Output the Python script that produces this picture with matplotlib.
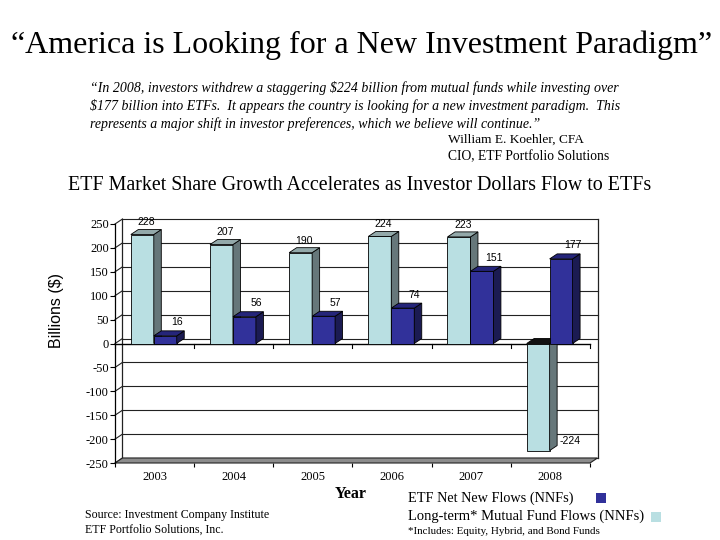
import matplotlib
matplotlib.use("Agg")
import matplotlib.pyplot as plt
from matplotlib.patches import Polygon, Rectangle

# ---- data ----
years = ["2003", "2004", "2005", "2006", "2007", "2008"]
mutual_fund_flows = [228, 207, 190, 224, 223, -224]   # light bars
etf_flows = [16, 56, 57, 74, 151, 177]                # dark bars
yticks = [-250, -200, -150, -100, -50, 0, 50, 100, 150, 200, 250]

SERIF = "Liberation Serif"
SANS = "Liberation Sans"

LIGHT_FACE, LIGHT_TOP, LIGHT_SIDE = "#b9dfe2", "#93a9aa", "#66777a"
DARK_FACE, DARK_TOP, DARK_SIDE = "#31319a", "#25257a", "#1b1b52"

fig = plt.figure(figsize=(7.2, 5.4), dpi=100)
W, H = 720, 540

def fx(px):
    return px / W

def fy(py):
    return 1 - py / H

# axes = front plane
ax = fig.add_axes([fx(115), fy(463), 475 / W, 239 / H])
n = len(years)
ax.set_xlim(-0.5, n - 0.5)
ax.set_ylim(-250, 250)
ax.patch.set_visible(False)
for s in ["top", "right", "bottom"]:
    ax.spines[s].set_visible(False)
ax.spines["left"].set_linewidth(0.9)

# depth offsets in data units
DX = 7.5 / (475 / n)
DY = 5.0 / (239 / 500)

x0f, x1f = -0.5, n - 0.5
# back wall gridlines + connectors
for t in yticks:
    ax.plot([x0f + DX, x1f + DX], [t + DY, t + DY], color="#222222", lw=0.8,
            zorder=1, clip_on=False)
    ax.plot([x0f, x0f + DX], [t, t + DY], color="#222222", lw=0.8,
            zorder=1, clip_on=False)
for xb in (x0f + DX, x1f + DX):
    ax.plot([xb, xb], [-250 + DY, 250 + DY], color="#222222", lw=0.9,
            zorder=1, clip_on=False)

# floor
floor = Polygon([(x0f, -250), (x1f, -250), (x1f + DX, -250 + DY), (x0f + DX, -250 + DY)],
                closed=True, facecolor="#8c8c8c", edgecolor="#222222", lw=0.8,
                zorder=2, clip_on=False)
ax.add_patch(floor)

# front zero line with category ticks
ax.plot([x0f, x1f], [0, 0], color="black", lw=1.0, zorder=2, clip_on=False)
for i in range(n + 1):
    xb = -0.5 + i
    ax.plot([xb, xb], [0, -9], color="black", lw=0.8, zorder=2, clip_on=False)

BW = 0.29
light_x = [i - 0.30 for i in range(n)]
dark_x = [i - 0.01 for i in range(n)]

def depth(xs, vals, top_c, side_c, z):
    for x0, v in zip(xs, vals):
        x1 = x0 + BW
        if v >= 0:
            top = [(x0, v), (x1, v), (x1 + DX, v + DY), (x0 + DX, v + DY)]
            side = [(x1, 0), (x1 + DX, DY), (x1 + DX, v + DY), (x1, v)]
            tc = top_c
        else:
            top = [(x0, 0), (x1, 0), (x1 + DX, DY), (x0 + DX, DY)]
            side = [(x1, v), (x1 + DX, v + DY), (x1 + DX, DY), (x1, 0)]
            tc = "#111111"
        ax.add_patch(Polygon(side, closed=True, facecolor=side_c, edgecolor="black",
                             lw=0.6, zorder=z, clip_on=False))
        ax.add_patch(Polygon(top, closed=True, facecolor=tc, edgecolor="black",
                             lw=0.6, zorder=z, clip_on=False))

ax.bar(light_x, mutual_fund_flows, width=BW, align="edge", color=LIGHT_FACE,
       edgecolor="black", linewidth=0.6, zorder=3)
depth(light_x, mutual_fund_flows, LIGHT_TOP, LIGHT_SIDE, 3)
ax.bar(dark_x, etf_flows, width=BW, align="edge", color=DARK_FACE,
       edgecolor="black", linewidth=0.6, zorder=4)
depth(dark_x, etf_flows, DARK_TOP, DARK_SIDE, 4)

# data labels
for x0, v in zip(light_x, mutual_fund_flows):
    if v >= 0:
        ax.annotate(f"{v}", (x0 + BW / 2 + DX * 0.5, v + DY), xytext=(0, 1.5),
                    textcoords="offset points", ha="center", va="bottom",
                    fontsize=7.5, family=SANS, zorder=6, annotation_clip=False)
    else:
        ax.annotate(f"{v}", (x0 + BW + DX, v), xytext=(2, 3),
                    textcoords="offset points", ha="left", va="bottom",
                    fontsize=7.5, family=SANS, zorder=6, annotation_clip=False)
for x0, v in zip(dark_x, etf_flows):
    ax.annotate(f"{v}", (x0 + BW / 2 + DX, v + DY), xytext=(3, 2.5),
                textcoords="offset points", ha="center", va="bottom",
                fontsize=7.5, family=SANS, zorder=6, annotation_clip=False)

# ticks
ax.set_yticks(yticks)
ax.set_yticklabels([str(t) for t in yticks], family=SERIF, fontsize=9)
ax.tick_params(axis="y", direction="out", length=3.5, width=0.8, pad=1)
ax.set_xticks(range(n))
ax.set_xticklabels(years, family=SERIF, fontsize=9)
ax.set_xticks([i - 0.5 for i in range(n + 1)], minor=True)
ax.tick_params(axis="x", which="major", length=0, pad=6)
ax.tick_params(axis="x", which="minor", direction="out", length=3, width=0.8)

# axis titles
fig.text(fx(57), fy(310), "Billions ($)", rotation=90, ha="center", va="center",
         family=SANS, fontsize=11.5)
fig.text(fx(351), fy(494), "Year", ha="center", va="center", family=SERIF,
         fontsize=11.5, fontweight="bold")

# titles and text
fig.text(fx(362), fy(45), "\u201cAmerica is Looking for a New Investment Paradigm\u201d",
         ha="center", va="center", family=SERIF, fontsize=23)
quote = [
    "\u201cIn 2008, investors withdrew a staggering $224 billion from mutual funds while investing over",
    "$177 billion into ETFs.  It appears the country is looking for a new investment paradigm.  This",
    "represents a major shift in investor preferences, which we believe will continue.\u201d",
]
for k, line in enumerate(quote):
    fig.text(fx(90), fy(88 + 18 * k), line, ha="left", va="center", family=SERIF,
             style="italic", fontsize=10)
fig.text(fx(448), fy(140), "William E. Koehler, CFA", ha="left", va="center",
         family=SERIF, fontsize=9.6)
fig.text(fx(448), fy(157), "CIO, ETF Portfolio Solutions", ha="left", va="center",
         family=SERIF, fontsize=9.8)
fig.text(fx(360), fy(186), "ETF Market Share Growth Accelerates as Investor Dollars Flow to ETFs",
         ha="center", va="center", family=SERIF, fontsize=14.4)

fig.text(fx(85), fy(515), "Source: Investment Company Institute", ha="left", va="center",
         family=SERIF, fontsize=8.6)
fig.text(fx(85), fy(530), "ETF Portfolio Solutions, Inc.", ha="left", va="center",
         family=SERIF, fontsize=8.6)

# legend
fig.text(fx(408), fy(498), "ETF Net New Flows (NNFs)", ha="left", va="center",
         family=SERIF, fontsize=10.3)
fig.text(fx(408), fy(516), "Long-term* Mutual Fund Flows (NNFs)", ha="left", va="center",
         family=SERIF, fontsize=10.5)
fig.text(fx(408), fy(531), "*Includes: Equity, Hybrid, and Bond Funds", ha="left",
         va="center", family=SERIF, fontsize=7.9)
fig.patches.append(Rectangle((fx(596), fy(503)), 10 / W, 10 / H, transform=fig.transFigure,
                             facecolor=DARK_FACE, edgecolor="none"))
fig.patches.append(Rectangle((fx(651), fy(522)), 10 / W, 10 / H, transform=fig.transFigure,
                             facecolor=LIGHT_FACE, edgecolor="none"))

fig.savefig("out.png", dpi=100)
